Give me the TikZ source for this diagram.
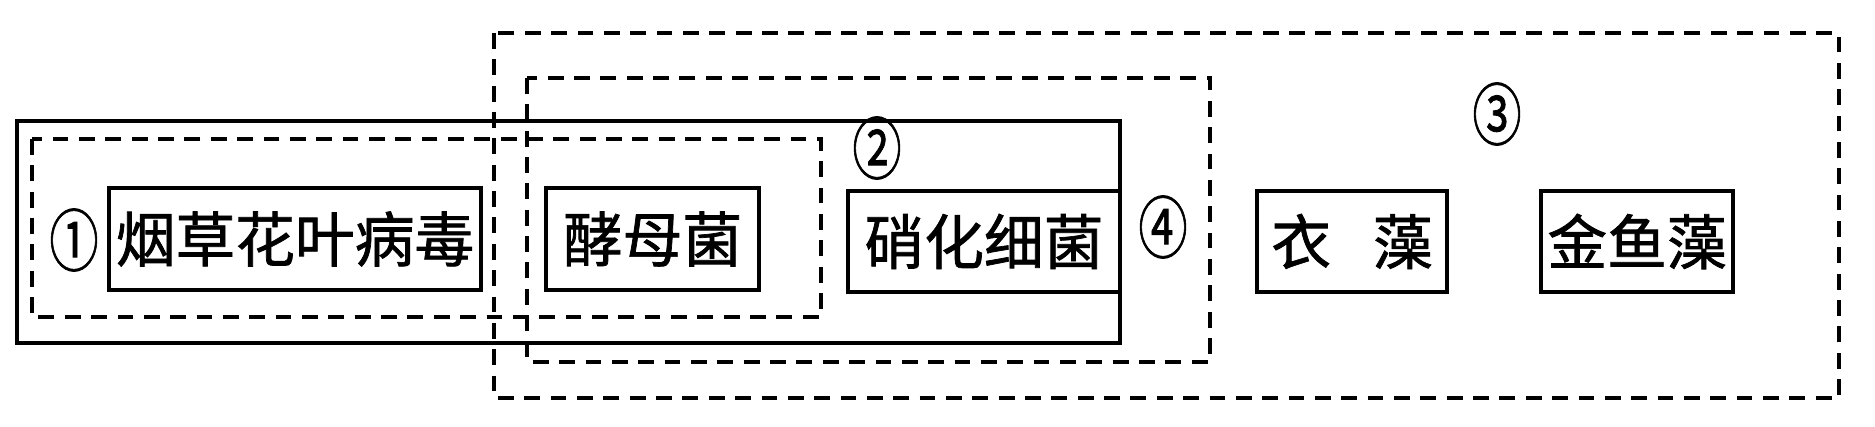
\documentclass[tikz,border=0pt]{standalone}
\usepackage{fontspec}
\setmainfont{Noto Sans CJK SC}
\newfontfamily\orgfont[FakeBold=1.2]{Noto Sans CJK SC}
\usetikzlibrary{calc}

\begin{document}
\begin{tikzpicture}[x=0.02cm, y=-0.02cm,
    orgbox/.style={draw, line width=2.2pt, inner sep=0pt, minimum height=2.04cm,
      font=\orgfont\fontsize{34}{40}\selectfont},
    groupline/.style={line width=2pt, dash pattern=on 9pt off 6pt},
    groupnum/.style={font=\orgfont\fontsize{35}{40}\selectfont, inner sep=0pt}]
  \useasboundingbox (0,0) rectangle (1875,426);

  % group outlines
  \draw[groupline] (494,33) rectangle (1839,398);
  \draw[groupline] (527,78) rectangle (1210,362);
  \draw[line width=2.2pt] (17,121) rectangle (1120,343);
  \draw[groupline] (32,139) rectangle (821,317);

  % organisms
  \node[orgbox, minimum width=7.44cm] (yancao) at (295,239) {烟草花叶病毒};
  \node[orgbox, minimum width=4.26cm] (jiaomu) at (652.5,239) {酵母菌};
  \node[orgbox, minimum width=5.44cm, minimum height=2.02cm] (xiaohua) at (984,241.5) {硝化细菌};
  \node[orgbox, minimum width=3.80cm, minimum height=2.02cm] (yizao) at (1352,241.5) {衣\hspace{0.7em}藻};
  \node[orgbox, minimum width=3.84cm, minimum height=2.02cm] (jinyu) at (1637,241.5) {金鱼藻};

  % group numbers
  \node[groupnum] (n1) at (74,240) {\scalebox{0.8}[1.1]{①}};
  \node[groupnum] (n2) at (877,148) {\scalebox{0.8}[1.1]{②}};
  \node[groupnum] (n3) at (1497,114) {\scalebox{0.8}[1.1]{③}};
  \node[groupnum] (n4) at (1163,227) {\scalebox{0.8}[1.1]{④}};
\end{tikzpicture}
\end{document}
